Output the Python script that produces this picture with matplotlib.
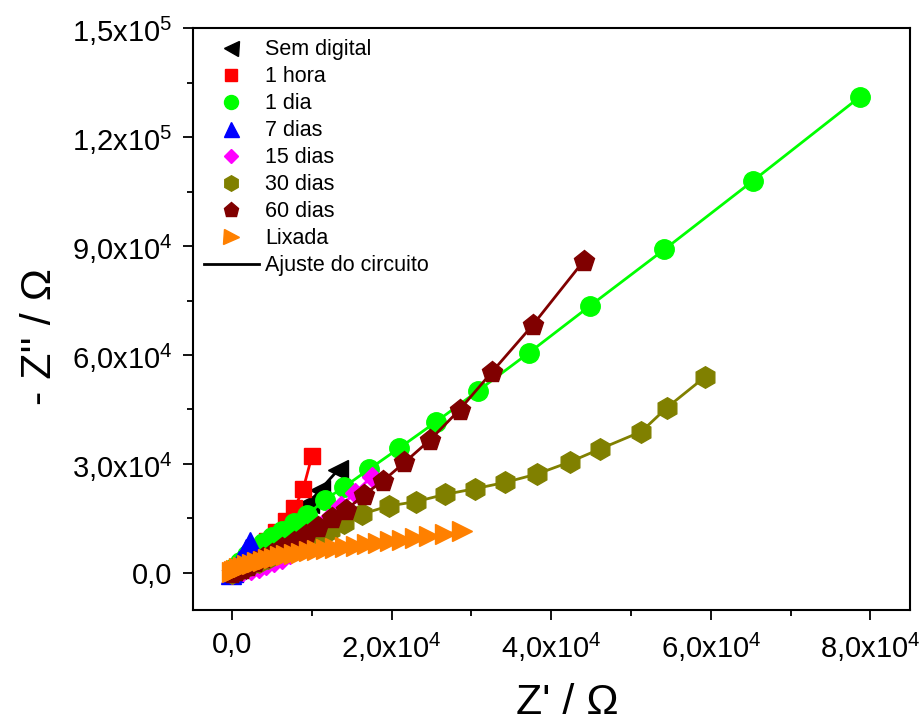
import matplotlib
matplotlib.use("Agg")
import matplotlib.pyplot as plt
from matplotlib.lines import Line2D
from matplotlib.ticker import MultipleLocator

plt.rcParams['font.family'] = ['Liberation Sans', 'DejaVu Sans']
plt.rcParams['mathtext.default'] = 'regular'

#---------DATA (Z' , -Z'' in Ohm)----------
sem_x = [13300, 11000, 9600, 8100, 6800, 5600, 4500, 3500, 2600, 1800, 1100, 500, 100]
sem_y = [28400, 22800, 19200, 16000, 13200, 10700, 8500, 6500, 4800, 3300, 2000, 1000, 300]

hora_x = [10000, 8900, 7800, 6700, 5500, 4400, 3300, 2400, 1600, 900, 400, 100]
hora_y = [32200, 23100, 17800, 14300, 11300, 8800, 6600, 4800, 3300, 2000, 1000, 300]

dia1_x = [78700, 65300, 54200, 44900, 37200, 30800, 25500, 20900, 17200, 14000, 11600,
          9400, 7800, 6200, 5000, 3800, 2700, 1800, 1000, 400, 100]
dia1_y = [131100, 108000, 89100, 73600, 60600, 50100, 41500, 34300, 28600, 23600, 20100,
          16000, 13700, 11600, 10000, 8300, 6500, 4800, 3000, 1500, 500]

dia7_x = [2200, 1700, 1300, 900, 600, 300, 100, -200]
dia7_y = [8600, 6500, 4800, 3300, 2000, 1000, 300, -300]

dia15_x = [17500, 15400, 13600, 12000, 10600, 9400, 8300, 7300, 6300, 5300, 4300, 3300,
           2300, 1400, 600, 0]
dia15_y = [26500, 22100, 18300, 14800, 11700, 9000, 6900, 5200, 3900, 2900, 2100, 1400,
           800, 400, 100, -300]

dia30_x = [59300, 54500, 51300, 46100, 42300, 38200, 34200, 30500, 26700, 23000, 19600,
           16300, 14000, 12300, 10500, 8800, 7200, 5800, 4500, 3300, 2200, 1300, 500, 0]
dia30_y = [54000, 45500, 38900, 34100, 30500, 27200, 24900, 23200, 21600, 19600, 18400,
           16200, 13700, 11800, 10000, 8300, 6800, 5400, 4200, 3100, 2100, 1200, 500, 0]

dia60_x = [44100, 37700, 32600, 28500, 24800, 21600, 18900, 16500, 14300, 12500, 10800,
           9200, 7700, 6200, 5000, 3900, 2900, 2000, 1200, 500, 0]
dia60_y = [86000, 68300, 55400, 44900, 36600, 30400, 25300, 21500, 17300, 15000, 12700,
           10500, 8600, 6800, 5300, 4000, 2900, 1900, 1100, 400, 0]

lix_x = [28800, 26700, 24700, 22900, 21300, 19800, 18300, 16900, 15500, 14200, 12900,
         11700, 10600, 9600, 8600, 7700, 6800, 6000, 5200, 4500, 3800, 3100, 2500, 1900,
         1400, 900, 500, 200, 0]
lix_y = [11400, 10700, 10100, 9600, 9100, 8700, 8300, 7900, 7500, 7200, 6900,
         6600, 6250, 5900, 5550, 5200, 4850, 4500, 4100, 3700, 3300, 2900, 2500, 2100,
         1700, 1300, 900, 500, 200]

labels = ["Sem digital", "1 hora", "1 dia", "7 dias", "15 dias", "30 dias", "60 dias", "Lixada"]

xticks = [0, 20000, 40000, 60000, 80000]
xticklabels = ["0,0", "2,0x10$^{4}$", "4,0x10$^{4}$", "6,0x10$^{4}$", "8,0x10$^{4}$"]
yticks = [0, 30000, 60000, 90000, 120000, 150000]
yticklabels = ["0,0", "3,0x10$^{4}$", "6,0x10$^{4}$", "9,0x10$^{4}$", "1,2x10$^{5}$", "1,5x10$^{5}$"]

#---------PLOT----------
series = [
    (sem_x, sem_y, "black", "<", 15),
    (hora_x, hora_y, "#ff0000", "s", 12),
    (dia1_x, dia1_y, "#00ff00", "o", 14),
    (dia7_x, dia7_y, "#0000ff", "^", 15),
    (dia15_x, dia15_y, "#ff00ff", "D", 10),
    (dia30_x, dia30_y, "#808000", "h", 15.5),
    (dia60_x, dia60_y, "#800000", "p", 15.5),
    (lix_x, lix_y, "#ff8000", ">", 15),
]

fig = plt.figure(figsize=(9.24, 7.26), dpi=100, facecolor="white")
ax = fig.add_axes([0.209, 0.160, 0.776, 0.801])

handles = []
for (x, y, c, m, ms), lab in zip(series, labels):
    ax.plot(x, y, "-", color=c, lw=2, marker=m, ms=ms, mec=c, mfc=c)
    handles.append(Line2D([], [], ls="none", marker=m, color=c, ms=ms * 0.72))
handles.append(Line2D([], [], color="black", lw=2))

ax.set_xlim(-4900, 85000)
ax.set_ylim(-10200, 150000)

narrow = ["Liberation Sans Narrow", "Liberation Sans"]
ax.set_xticks(xticks)
ax.set_xticklabels(xticklabels, family=narrow, fontsize=21)
ax.set_yticks(yticks)
ax.set_yticklabels(yticklabels, fontsize=21)
ax.xaxis.set_minor_locator(MultipleLocator(10000))
ax.yaxis.set_minor_locator(MultipleLocator(15000))
ax.tick_params(which="both", direction="out", width=1.3, top=False, right=False)
ax.tick_params(which="major", length=7)
ax.tick_params(which="minor", length=4)
ax.tick_params(axis="x", pad=8)
ax.tick_params(axis="y", pad=8)
for s in ax.spines.values():
    s.set_linewidth(1.5)

ax.set_xlabel("Z' / \u03a9", family=narrow, fontsize=31)
ax.xaxis.set_label_coords(0.522, -0.125)
ax.set_ylabel("- Z'' / \u03a9", fontsize=31)
ax.yaxis.set_label_coords(-0.185, 0.47)

ax.legend(handles, labels + ["Ajuste do circuito"], loc="upper left", bbox_to_anchor=(0, 1),
          frameon=False, fontsize=15.5, handlelength=2.55, handletextpad=0.3,
          labelspacing=0.28, borderaxespad=0.1)

fig.savefig("out.png", dpi=100, facecolor="white")
